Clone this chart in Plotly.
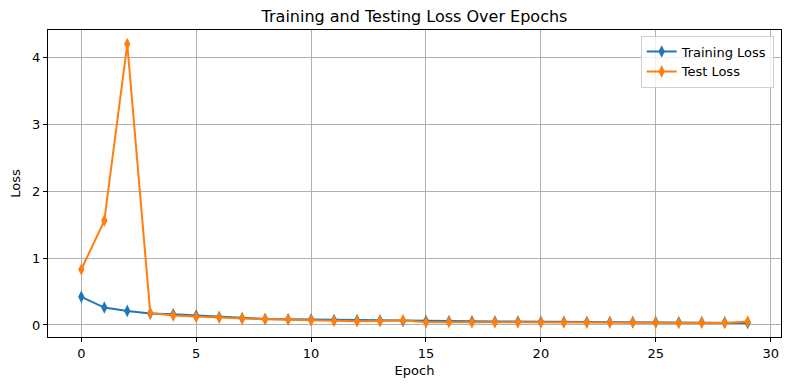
import plotly.graph_objects as go

epochs = list(range(30))
train_loss = [0.42, 0.26, 0.21, 0.17, 0.16, 0.14, 0.12, 0.10, 0.09, 0.085,
              0.08, 0.075, 0.07, 0.065, 0.06, 0.058, 0.056, 0.054, 0.052, 0.05,
              0.048, 0.046, 0.045, 0.044, 0.043, 0.042, 0.041, 0.04, 0.038, 0.03]
test_loss = [0.83, 1.56, 4.2, 0.18, 0.14, 0.12, 0.11, 0.095, 0.085, 0.08,
             0.07, 0.06, 0.055, 0.06, 0.07, 0.04, 0.045, 0.04, 0.04, 0.04,
             0.04, 0.04, 0.035, 0.035, 0.04, 0.035, 0.03, 0.035, 0.03, 0.05]
x_ticks = [0, 5, 10, 15, 20, 25, 30]
y_ticks = [0, 1, 2, 3, 4]

font = "DejaVu Sans"
fig = go.Figure()
fig.add_trace(go.Scatter(x=epochs, y=train_loss, mode="lines+markers", name="Training Loss",
                         line=dict(color="#1f77b4", width=2),
                         marker=dict(symbol="diamond-tall", size=9, color="#1f77b4")))
fig.add_trace(go.Scatter(x=epochs, y=test_loss, mode="lines+markers", name="Test Loss",
                         line=dict(color="#ff7f0e", width=2),
                         marker=dict(symbol="diamond-tall", size=9, color="#ff7f0e")))

axis_common = dict(showline=True, linecolor="black", linewidth=1, mirror=True,
                   ticks="outside", ticklen=4, tickcolor="black", automargin=False,
                   showgrid=True, gridcolor="#b0b0b0", gridwidth=0.8, zeroline=False,
                   tickfont=dict(family=font, size=13, color="black"))
fig.update_layout(
    template="none",
    width=789, height=390,
    paper_bgcolor="white", plot_bgcolor="white",
    margin=dict(l=48, r=8, t=30, b=53, pad=0),
    title=dict(text="Training and Testing Loss Over Epochs", x=0.5, xanchor="center",
               xref="paper", y=1 - 16 / 390, yref="container", yanchor="middle",
               font=dict(family=font, size=16, color="black")),
    xaxis=dict(range=[-1.45, 30.45], tickvals=x_ticks,
               title=dict(text="Epoch", font=dict(family=font, size=13, color="black"), standoff=6),
               **axis_common),
    yaxis=dict(range=[-0.18, 4.41], tickvals=y_ticks,
               title=dict(text="Loss", font=dict(family=font, size=13, color="black"), standoff=8),
               **axis_common),
    legend=dict(x=0.99, y=0.982, xanchor="right", yanchor="top", tracegroupgap=0,
                bgcolor="rgba(255,255,255,0.8)", bordercolor="#d0d0d0", borderwidth=1,
                font=dict(family=font, size=13, color="black")),
    showlegend=True,
)
fig.write_html("out.html", config={"displayModeBar": False},
               post_script="document.body.style.margin='0';")
